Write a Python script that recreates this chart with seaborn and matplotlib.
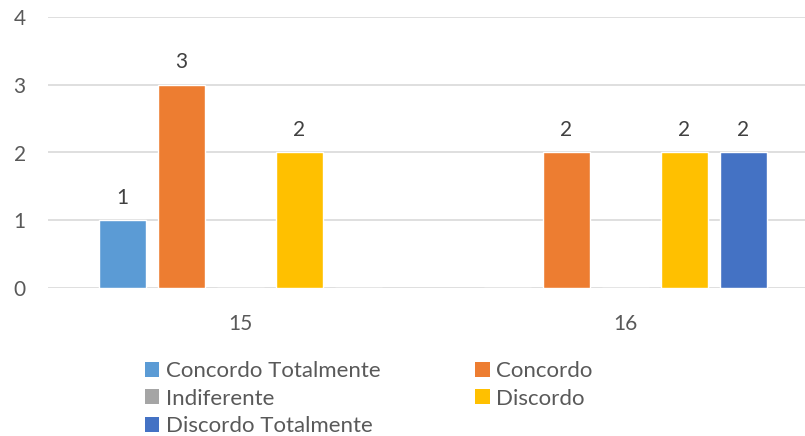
import matplotlib
matplotlib.use("Agg")
import matplotlib.pyplot as plt
import seaborn as sns
import pandas as pd
from matplotlib.patches import Patch

groups = ["15", "16"]
responses = ["Concordo Totalmente", "Concordo", "Indiferente", "Discordo", "Discordo Totalmente"]
values_15 = [1, 3, 0, 2, 0]
values_16 = [0, 2, 0, 2, 2]
colors = ["#5B9BD5", "#ED7D31", "#A5A5A5", "#FFC000", "#4472C4"]

rows = []
for g, vals in zip(groups, [values_15, values_16]):
    for r, v in zip(responses, vals):
        rows.append({"grupo": g, "resposta": r, "valor": v})
df = pd.DataFrame(rows)

sns.set_style("white")
plt.rcParams["font.family"] = ["Lato", "DejaVu Sans"]

fig = plt.figure(figsize=(8.05, 4.36), dpi=100)
W, H = 805, 436
left_px, right_px, top_px, bottom_px = 48, 805, 17, 288
ax = fig.add_axes([left_px / W, 1 - bottom_px / H, (right_px - left_px) / W, (bottom_px - top_px) / H])

sns.barplot(data=df, x="grupo", y="valor", hue="resposta", hue_order=responses,
            palette=colors, width=0.766, gap=0.2, ax=ax, legend=False,
            saturation=1, errorbar=None)

for cont in ax.containers:
    labels = [f"{int(v)}" if v > 0 else "" for v in cont.datavalues]
    ax.bar_label(cont, labels=labels, padding=9, fontsize=15, color="#404040")

band = (right_px - left_px) / (817.5 - 47.5)
ax.set_xlim(-0.5, -0.5 + band * 2)
ax.set_ylim(0, 4)
ax.set_yticks([0, 1, 2, 3, 4])
ax.yaxis.grid(True, color="#D9D9D9", linewidth=1.2)
ax.set_axisbelow(True)
for s in ax.spines.values():
    s.set_visible(False)
ax.set_xlabel("")
ax.set_ylabel("")
ax.tick_params(axis="both", length=0, labelsize=15, labelcolor="#595959")
ax.tick_params(axis="y", pad=16)
ax.tick_params(axis="x", pad=19)

order = [0, 2, 4, 1, 3]
handles = [Patch(facecolor=colors[i], edgecolor="none") for i in order]
labs = [responses[i] for i in order]
fig.legend(handles, labs, ncol=2, loc="upper left", bbox_to_anchor=(145 / W, 1 - 361 / H),
           frameon=False, fontsize=16, labelcolor="#595959", handlelength=0.65, handleheight=0.65,
           handletextpad=0.3, columnspacing=4.25, labelspacing=0.34, borderaxespad=0,
           borderpad=0)

fig.savefig("out.png", dpi=100)
